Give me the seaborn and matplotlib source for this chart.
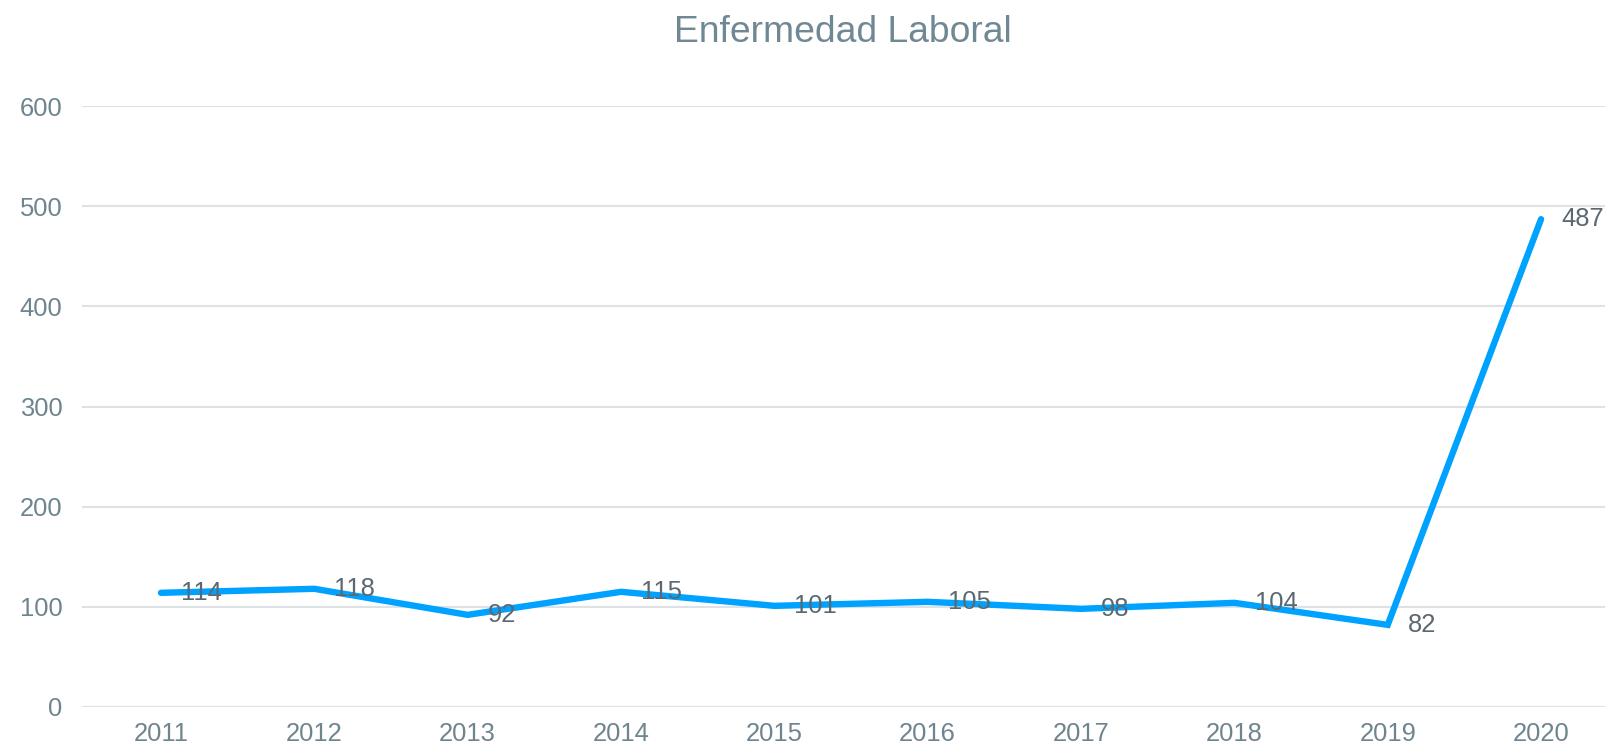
import matplotlib
matplotlib.use("Agg")
import matplotlib.pyplot as plt
import seaborn as sns
import pandas as pd

years = ["2011", "2012", "2013", "2014", "2015", "2016", "2017", "2018", "2019", "2020"]
values = [114, 118, 92, 115, 101, 105, 98, 104, 82, 487]
yticks = [0, 100, 200, 300, 400, 500, 600]
title = "Enfermedad Laboral"

sns.set_theme(style="white")
plt.rcParams['font.family'] = ['Liberation Sans', 'DejaVu Sans']

W, H = 1605, 746
fig = plt.figure(figsize=(W / 100, H / 100), dpi=100)
ax = fig.add_axes([82 / W, (H - 707) / H, (W - 82) / W, (707 - 106) / H])

df = pd.DataFrame({"year": years, "value": values})
sns.lineplot(data=df, x="year", y="value", ax=ax, color="#00A2FF",
             linewidth=4.6, solid_capstyle="round", solid_joinstyle="miter",
             clip_on=False, zorder=3)

ax.set_xlim(-0.515, 9.417)
ax.set_ylim(0, 600)
ax.set_yticks(yticks)
ax.set_yticklabels([str(t) for t in yticks])
ax.grid(axis="y", color="#DCE2E5", linewidth=1.5)
ax.grid(axis="x", visible=False)
for s in ax.spines.values():
    s.set_visible(False)
ax.set_xlabel("")
ax.set_ylabel("")
ax.tick_params(axis="both", length=0, labelsize=18.4, labelcolor="#6E848F")
ax.tick_params(axis="y", pad=14)
ax.tick_params(axis="x", pad=10.5)

for i, v in enumerate(values):
    ax.annotate(str(v), (i, v), xytext=(14.5, 0), textcoords="offset points",
                ha="left", va="center", fontsize=18.4, color="#5B6870",
                zorder=4, annotation_clip=False)

fig.text(843 / W, 1 - 42 / H, title, ha="center", va="baseline",
         fontsize=26.8, color="#6F8893")

fig.savefig("out.png", dpi=100, facecolor="white")
